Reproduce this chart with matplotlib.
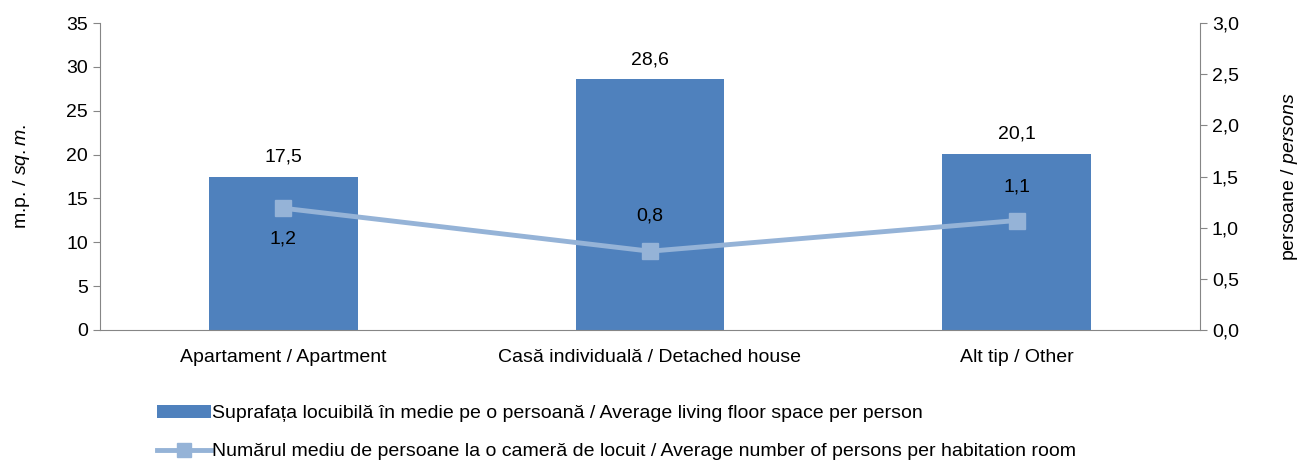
import matplotlib.pyplot as plt
import numpy as np

plt.rcParams['font.family'] = ['Liberation Sans', 'DejaVu Sans']
plt.rcParams['mathtext.fontset'] = 'custom'
plt.rcParams['mathtext.rm'] = 'Liberation Sans'
plt.rcParams['mathtext.it'] = 'Liberation Sans:italic'

categories = ['Apartament / Apartment', 'Casă individuală / Detached house', 'Alt tip / Other']
floor_space = [17.5, 28.6, 20.1]
persons_per_room = [1.19, 0.77, 1.07]

bar_label = 'Suprafața locuibilă în medie pe o persoană / Average living floor space per person'
line_label = 'Numărul mediu de persoane la o cameră de locuit / Average number of persons per habitation room'

bar_color = '#4F81BD'
line_color = '#95B3D7'
axis_color = '#868686'
fs = 14

fig = plt.figure(figsize=(13.01, 4.63), dpi=100)
ax = fig.add_axes([100 / 1301, 1 - 330 / 463, 1100 / 1301, 307 / 463])
ax2 = ax.twinx()

x = np.arange(len(categories))
bars = ax.bar(x, floor_space, width=0.405, color=bar_color, zorder=2)
ax.set_xlim(-0.5, len(categories) - 0.5)
ax.set_ylim(0, 35)
ax.set_yticks(np.arange(0, 36, 5))
ax.set_xticks(x)
ax.set_xticklabels(categories)
ax.set_ylabel(r'm.p. / $\it{sq{.}m{.}}$', fontsize=fs, labelpad=25)

for xi, v in zip(x, floor_space):
    ax.annotate(f'{v:.1f}'.replace('.', ','), (xi, v), xytext=(0, 8),
                textcoords='offset points', ha='center', va='bottom', fontsize=fs)

line, = ax2.plot(x, persons_per_room, color=line_color, lw=3.5, marker='s',
                 markersize=12, zorder=3)
ax2.set_ylim(0, 3)
ax2.set_yticks(np.arange(0, 3.01, 0.5))
ax2.set_yticklabels([f'{t:.1f}'.replace('.', ',') for t in np.arange(0, 3.01, 0.5)])
ax2.set_ylabel(r'persoane / $\it{persons}$', fontsize=fs, labelpad=29)

offsets = [-16, 19, 18]
for xi, v, off in zip(x, persons_per_room, offsets):
    ax2.annotate(f'{v:.1f}'.replace('.', ','), (xi, v), xytext=(0, off),
                 textcoords='offset points', ha='center',
                 va='top' if off < 0 else 'bottom', fontsize=fs)

for a in (ax, ax2):
    a.spines['top'].set_visible(False)
    for side in ('left', 'right', 'bottom'):
        a.spines[side].set_color(axis_color)
    a.tick_params(axis='y', colors=axis_color, labelcolor='black', labelsize=fs, length=5)
ax.spines['right'].set_visible(False)
ax2.spines['left'].set_visible(False)
ax2.spines['bottom'].set_visible(False)
ax.tick_params(axis='x', length=0, labelsize=fs, pad=14)

fig.legend([bars, line], [bar_label, line_label], loc='upper left',
           bbox_to_anchor=(149 / 1301, 1 - 397 / 463), frameon=False,
           fontsize=fs, handlelength=2.8, handletextpad=0.05, labelspacing=1.05,
           borderaxespad=0, markerscale=0.8)

fig.savefig('out.png', dpi=100)
